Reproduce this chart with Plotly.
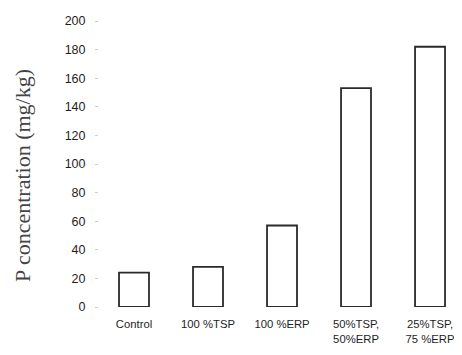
import plotly.graph_objects as go

categories = ["Control", "100 %TSP", "100 %ERP", "50%TSP,<br>50%ERP", "25%TSP,<br>75 %ERP"]
p_values = [24, 28, 57, 153, 182]
y_ticks = [0, 20, 40, 60, 80, 100, 120, 140, 160, 180, 200]

fig = go.Figure()
fig.add_trace(go.Bar(
    x=list(range(len(categories))),
    y=p_values,
    width=0.405,
    marker=dict(color="white", line=dict(color="#2a2a2a", width=1.8)),
    showlegend=False,
))

fig.update_layout(
    width=454, height=347,
    margin=dict(l=91, r=0, t=13, b=48, autoexpand=False),
    paper_bgcolor="white", plot_bgcolor="white",
    font=dict(family="Liberation Sans, Arial, sans-serif", size=12, color="#222"),
    xaxis=dict(
        range=[-0.473, 4.432],
        tickmode="array",
        tickvals=list(range(len(categories))),
        ticktext=categories,
        showgrid=False, zeroline=False, showline=False,
        ticks="", ticklabelstandoff=9, automargin=False,
        tickfont=dict(size=11.3, color="#1e1e1e"),
    ),
    yaxis=dict(
        range=[0, 200],
        tickmode="array",
        tickvals=y_ticks,
        ticktext=[str(v) for v in y_ticks],
        showgrid=False, zeroline=False, showline=False,
        ticks="outside", ticklen=3, tickcolor="#cfcfcf", tickwidth=1,
        ticklabelstandoff=7, automargin=False,
        tickfont=dict(size=12.5, color="#1e1e1e"),
    ),
)

fig.add_annotation(
    text="P concentration (mg/kg)",
    xref="paper", yref="paper", x=0, y=0.5,
    xanchor="center", yanchor="middle",
    xshift=-77, yshift=-12,
    textangle=-90, showarrow=False,
    font=dict(family="Liberation Serif, Times New Roman, serif", size=22, color="#444"),
)

fig.write_html("out.html")
